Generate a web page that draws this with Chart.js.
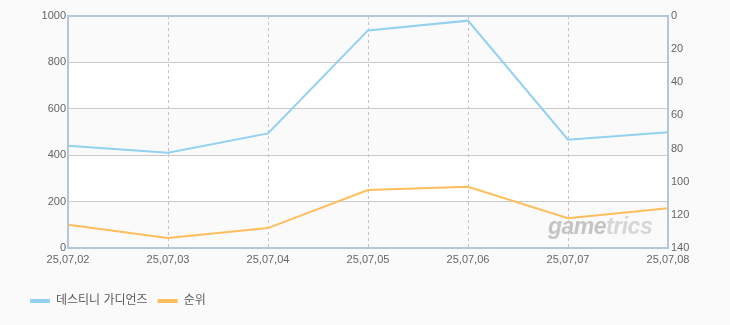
<!DOCTYPE html>
<html>
<head>
<meta charset="utf-8">
<script src="https://cdn.jsdelivr.net/npm/chart.js@4/dist/chart.umd.min.js"></script>
<style>
  html, body { margin: 0; padding: 0; background: #fafafa; }
  #wrap { position: relative; width: 730px; height: 325px; }
  #wm { position: absolute; left: 548px; top: 215px; font: italic bold 23px 'Liberation Sans', Arial, sans-serif; line-height: 23px; letter-spacing: -0.5px; color: #c4c4c4; pointer-events: none; }
  #wm span { color: #d6d6d6; }
</style>
</head>
<body>
<div id="wrap">
  <canvas id="c" width="730" height="325"></canvas>
  <div id="wm">game<span>trics</span></div>
</div>
<script>
const categories = ['25,07,02', '25,07,03', '25,07,04', '25,07,05', '25,07,06', '25,07,07', '25,07,08'];
const seriesNames = ['데스티니 가디언즈', '순위'];
const users = [441, 411, 494, 938, 980, 467, 499];
const rank = [126, 134, 128, 105, 103, 122, 116];
const leftTicks = [0, 200, 400, 600, 800, 1000];
const rightTicks = [0, 20, 40, 60, 80, 100, 120, 140];

const FONT = "'Liberation Sans', 'Noto Sans CJK KR', sans-serif";
const TEXT = '#666666';

const bandPlugin = {
  id: 'bands',
  beforeDraw(chart) {
    const { ctx, chartArea } = chart;
    const y = chart.scales.y;
    ctx.save();
    for (let i = 0; i < leftTicks.length - 1; i++) {
      const top = y.getPixelForValue(leftTicks[i + 1]);
      const bot = y.getPixelForValue(leftTicks[i]);
      ctx.fillStyle = (i % 2 === 0) ? '#fafafa' : '#ffffff';
      ctx.fillRect(chartArea.left, top, chartArea.right - chartArea.left, bot - top);
    }
    ctx.restore();
  },
  afterDatasetsDraw(chart) {
    const { ctx, chartArea } = chart;
    ctx.save();
    ctx.strokeStyle = '#b4c6d8';
    ctx.lineWidth = 2;
    ctx.strokeRect(chartArea.left, chartArea.top, chartArea.right - chartArea.left, chartArea.bottom - chartArea.top);
    ctx.restore();
  }
};

new Chart(document.getElementById('c'), {
  type: 'line',
  data: {
    labels: categories,
    datasets: [
      { label: seriesNames[0], data: users, yAxisID: 'y', borderColor: '#92d1f0', backgroundColor: '#92d1f0', borderWidth: 2, pointRadius: 0, tension: 0 },
      { label: seriesNames[1], data: rank, yAxisID: 'y1', borderColor: '#ffbe5c', backgroundColor: '#ffbe5c', borderWidth: 2, pointRadius: 0, tension: 0 }
    ]
  },
  options: {
    responsive: false,
    animation: false,
    layout: { padding: { left: 20, right: 0, top: 16, bottom: 8 } },
    plugins: {
      tooltip: { enabled: false },
      legend: {
        position: 'bottom',
        align: 'start',
        labels: {
          boxWidth: 20,
          boxHeight: 4,
          padding: 10,
          color: '#5a5a5a',
          font: { family: FONT, size: 12 },
          generateLabels(chart) {
            return Chart.defaults.plugins.legend.labels.generateLabels(chart).map(l => Object.assign(l, { lineWidth: 0 }));
          }
        }
      }
    },
    scales: {
      x: {
        offset: false,
        grid: { color: '#c4c4c4', drawTicks: false },
        border: { display: false, dash: [3, 3] },
        ticks: { color: TEXT, font: { family: FONT, size: 11 }, padding: 5, maxRotation: 0, autoSkip: false },
        afterFit(s) { s.height = 37; }
      },
      y: {
        position: 'left',
        min: 0, max: 1000,
        grid: { color: '#cacaca', drawTicks: false },
        border: { display: false },
        ticks: { stepSize: 200, color: TEXT, font: { family: FONT, size: 11 }, padding: 2, callback: v => String(v) },
        afterFit(s) { s.width = 48; }
      },
      y1: {
        position: 'right',
        reverse: true,
        min: 0, max: 140,
        grid: { drawOnChartArea: false, drawTicks: false },
        border: { display: false },
        ticks: { stepSize: 20, color: TEXT, font: { family: FONT, size: 11 }, padding: 3, callback: v => String(v) },
        afterFit(s) { s.width = 62; }
      }
    }
  },
  plugins: [bandPlugin]
});
</script>
</body>
</html>
